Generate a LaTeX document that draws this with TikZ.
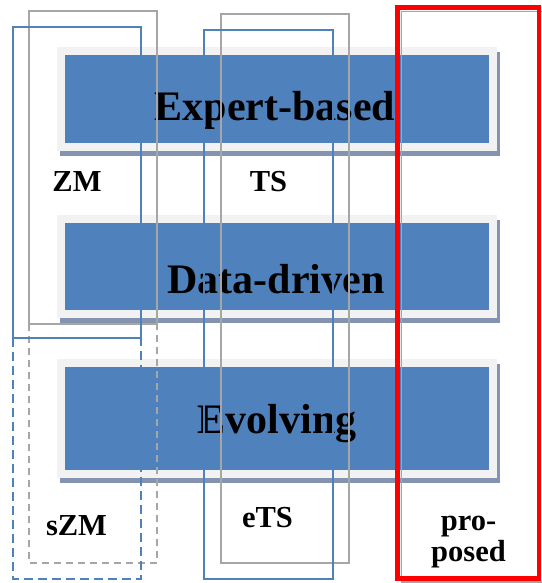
\documentclass[tikz,border=0pt]{standalone}
\usepackage{fontspec}
\setmainfont{Liberation Serif}
\usetikzlibrary{shadows}
\definecolor{barBlue}{RGB}{79,129,189}
\definecolor{barFrame}{RGB}{242,242,242}
\definecolor{barShadow}{RGB}{132,148,176}
\definecolor{lineGray}{RGB}{166,166,166}
\tikzset{
    bar/.style={fill=barBlue, draw=barFrame, line width=8pt, minimum width=432pt, inner sep=0pt,
        drop shadow={shadow xshift=3pt, shadow yshift=-5pt, fill=barShadow, draw=barShadow, line width=8pt, opacity=1}},
    barText/.style={font=\fontsize{42}{42}\selectfont\bfseries, anchor=base},
    groupText/.style={font=\fontsize{30.5}{31}\selectfont\bfseries, anchor=base, align=center}
}
\tikzset{
    blueFrame/.style={barBlue, line width=2pt},
    grayFrame/.style={lineGray, line width=1.2pt}
}

\begin{document}
\begin{tikzpicture}[x=1pt,y=-1pt]
    \useasboundingbox (0,0) rectangle (541,583);
    % the three levels
    \node[bar, minimum height=96pt] (expert) at (277,99) {};
    \node[bar, minimum height=95pt] (data) at (277,266.5) {};
    \node[bar, minimum height=111pt] (evolving) at (277,418.5) {};
    \node[barText] (expertText) at (275,121) {Expert-based};
    \node[barText] (dataText) at (276,293) {Data-driven};
    \node[barText] (evolvingText) at (277,433) {Evolving};
    % offset frames
    \draw[grayFrame] (29,11) rectangle (157,324);
    \draw[grayFrame, dash pattern=on 7pt off 5pt] (29,324) rectangle (157,563);
    \draw[grayFrame] (221,14) rectangle (349,563);
    \draw[grayFrame] (401.5,11.5) rectangle (543,582);
    % model frames
    \draw[blueFrame] (13,27) rectangle (141,338);
    \draw[blueFrame, dash pattern=on 9pt off 5pt] (13,338) rectangle (141,579);
    \draw[blueFrame] (204,30) rectangle (333,579);
    \draw[red, line width=4.5pt] (397.5,7.5) rectangle (539,578.5);
    \node[groupText] (zm) at (77,191) {ZM};
    \node[groupText] (ts) at (268.5,191) {TS};
    \node[groupText] (szm) at (76.5,535) {sZM};
    \node[groupText] (ets) at (267.5,527) {eTS};
    \node[groupText] (proposed) at (468.5,561) {pro-\\posed};
\end{tikzpicture}
\end{document}
